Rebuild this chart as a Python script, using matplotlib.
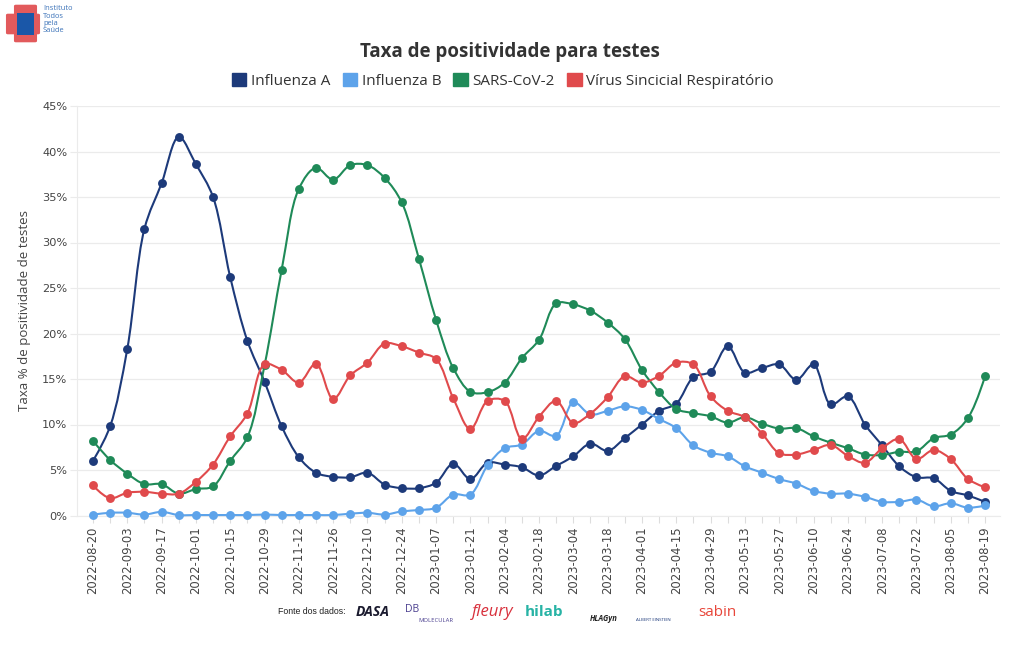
import numpy as np
import matplotlib
matplotlib.use("Agg")
import matplotlib.pyplot as plt
from matplotlib.path import Path
from matplotlib.patches import PathPatch, Patch, FancyBboxPatch

plt.rcParams['font.family'] = ['Open Sans', 'DejaVu Sans']

# weekly dates (labels shown every two weeks)
dates = [
    "2022-08-20", "2022-08-27", "2022-09-03", "2022-09-10", "2022-09-17", "2022-09-24",
    "2022-10-01", "2022-10-08", "2022-10-15", "2022-10-22", "2022-10-29", "2022-11-05",
    "2022-11-12", "2022-11-19", "2022-11-26", "2022-12-03", "2022-12-10", "2022-12-17",
    "2022-12-24", "2022-12-31", "2023-01-07", "2023-01-14", "2023-01-21", "2023-01-28",
    "2023-02-04", "2023-02-11", "2023-02-18", "2023-02-25", "2023-03-04", "2023-03-11",
    "2023-03-18", "2023-03-25", "2023-04-01", "2023-04-08", "2023-04-15", "2023-04-22",
    "2023-04-29", "2023-05-06", "2023-05-13", "2023-05-20", "2023-05-27", "2023-06-03",
    "2023-06-10", "2023-06-17", "2023-06-24", "2023-07-01", "2023-07-08", "2023-07-15",
    "2023-07-22", "2023-07-29", "2023-08-05", "2023-08-12", "2023-08-19",
]

flu_a = [6.0, 9.8, 18.3, 31.5, 36.5, 41.6, 38.6, 35.0, 26.2, 19.2, 14.7, 9.8, 6.4,
         4.7, 4.25, 4.2, 4.7, 3.4, 3.0, 3.0, 3.6, 5.7, 4.0, 5.8, 5.6, 5.3, 4.4,
         5.45, 6.5, 7.9, 7.1, 8.5, 10.0, 11.5, 12.3, 15.2, 15.8, 18.6, 15.7, 16.2,
         16.6, 14.9, 16.6, 12.2, 13.1, 10.0, 7.7, 5.4, 4.2, 4.1, 2.7, 2.2, 1.5]
flu_b = [0.1, 0.3, 0.3, 0.1, 0.4, 0.05, 0.05, 0.05, 0.05, 0.05, 0.1, 0.05, 0.05,
         0.05, 0.05, 0.2, 0.3, 0.1, 0.45, 0.6, 0.85, 2.3, 2.3, 5.5, 7.4, 7.8, 9.3,
         8.75, 12.45, 11.1, 11.5, 12.0, 11.6, 10.6, 9.6, 7.7, 6.9, 6.5, 5.4, 4.7,
         4.0, 3.5, 2.7, 2.4, 2.4, 2.05, 1.5, 1.5, 1.75, 1.0, 1.35, 0.85, 1.1]
sars = [8.2, 6.1, 4.6, 3.45, 3.45, 2.4, 2.9, 3.2, 6.0, 8.6, 16.5, 27.0, 35.9,
        38.2, 36.9, 38.5, 38.5, 37.1, 34.4, 28.2, 21.5, 16.2, 13.6, 13.55, 14.6, 17.3, 19.3,
        23.3, 23.2, 22.5, 21.2, 19.4, 16.0, 13.55, 11.7, 11.25, 10.9, 10.2, 10.8, 10.1,
        9.55, 9.6, 8.7, 8.0, 7.4, 6.7, 6.65, 7.0, 7.05, 8.5, 8.9, 10.7, 15.3]
vsr = [3.3, 1.9, 2.5, 2.6, 2.4, 2.4, 3.7, 5.6, 8.7, 11.2, 16.6, 16.0, 14.6,
       16.7, 12.8, 15.4, 16.8, 18.9, 18.6, 17.9, 17.2, 12.9, 9.5, 12.6, 12.6, 8.4, 10.85,
       12.6, 10.15, 11.2, 13.0, 15.3, 14.6, 15.35, 16.8, 16.6, 13.1, 11.5, 10.8, 9.0,
       6.85, 6.7, 7.2, 7.75, 6.55, 5.8, 7.4, 8.4, 6.2, 7.2, 6.2, 4.0, 3.1]

names = ["Influenza A", "Influenza B", "SARS-CoV-2", "Vírus Sincicial Respiratório"]
colors = ["#1d3a7a", "#5da3ea", "#1f8a58", "#e04a4c"]
series = [flu_a, flu_b, sars, vsr]


def spline_path(x, y, sx, sy, smooth=1.0):
    # plotly-like catmull-rom spline, computed in pixel-ish space
    P = np.column_stack([np.asarray(x, float) * sx, np.asarray(y, float) * sy])
    n = len(P)
    tang = []
    for i in range(1, n - 1):
        d1 = P[i - 1] - P[i]
        d2 = P[i + 1] - P[i]
        d1a = np.hypot(*d1) ** 0.5
        d2a = np.hypot(*d2) ** 0.5
        num = (d2a ** 2 * d1 - d1a ** 2 * d2) * smooth
        t0 = P[i] + num / (3 * d2a * (d1a + d2a))
        t1 = P[i] - num / (3 * d1a * (d1a + d2a))
        tang.append((t0, t1))
    verts = [P[0], tang[0][0], P[1]]
    codes = [Path.MOVETO, Path.CURVE3, Path.CURVE3]
    for i in range(2, n - 1):
        verts += [tang[i - 2][1], tang[i - 1][0], P[i]]
        codes += [Path.CURVE4] * 3
    verts += [tang[n - 3][1], P[n - 1]]
    codes += [Path.CURVE3, Path.CURVE3]
    verts = np.array(verts) / np.array([sx, sy])
    return Path(verts, codes)


fig = plt.figure(figsize=(10.2, 6.5), dpi=100)
ax = fig.add_axes([77 / 1020, 1 - 515.5 / 650, 923 / 1020, 409.5 / 650])

x = np.arange(len(dates))
for vals, col in zip(series, colors):
    path = spline_path(x, vals, 17.15, 9.1)
    ax.add_patch(PathPatch(path, facecolor="none", edgecolor=col, lw=1.5,
                           clip_on=False, zorder=3, capstyle="round", joinstyle="round"))
    ax.plot(x, vals, "o", color=col, ms=6.4, mew=0, clip_on=False, zorder=3)

ax.set_xlim(-0.93, 52.87)
ax.set_ylim(0, 45)
ax.set_yticks(np.arange(0, 46, 5))
ax.set_yticklabels([f"{v}%" for v in range(0, 46, 5)])
ax.set_xticks(x)
ax.set_xticklabels([d if i % 2 == 0 else "" for i, d in enumerate(dates)], rotation=90)
ax.grid(axis="y", color="#ebebeb", lw=0.9, zorder=0)
for s in ["top", "right"]:
    ax.spines[s].set_visible(False)
ax.spines["left"].set_color("#ebebeb")
ax.spines["bottom"].set_color("#ebebeb")
ax.tick_params(axis="y", length=5, color="#ebebeb", labelsize=8.2, labelcolor="#444444", pad=2)
ax.tick_params(axis="x", length=5, color="#dddddd", labelsize=8.4, labelcolor="#444444", pad=3)
for lab in ax.get_xticklabels() + ax.get_yticklabels():
    lab.set_family(["DejaVu Sans"])
ax.set_ylabel("Taxa % de positividade de testes", fontsize=9.5, color="#444444", labelpad=8)

fig.text(0.5, 1 - 52 / 650, "Taxa de positividade para testes", ha="center", va="center",
         fontsize=13.5, fontweight="bold", color="#333333")
handles = [Patch(facecolor=c, edgecolor=c) for c in colors]
fig.legend(handles, names, loc="center", bbox_to_anchor=(0.493, 1 - 81 / 650), ncol=4,
           frameon=False, handlelength=0.95, handleheight=0.95, handletextpad=0.3,
           columnspacing=0.8, fontsize=11, labelcolor="#333333")

# top-left logo
fig.patches.append(FancyBboxPatch((8 / 1020, 1 - 33 / 650), 30 / 1020, 18 / 650,
                                  boxstyle="round,pad=0.002", fc="#e25a5c", ec="none",
                                  transform=fig.transFigure))
fig.patches.append(FancyBboxPatch((16 / 1020, 1 - 41 / 650), 19 / 1020, 35 / 650,
                                  boxstyle="round,pad=0.002", fc="#e25a5c", ec="none",
                                  transform=fig.transFigure))
fig.patches.append(FancyBboxPatch((17 / 1020, 1 - 35 / 650), 17 / 1020, 22 / 650,
                                  boxstyle="square,pad=0", fc="#1a57a8", ec="none",
                                  transform=fig.transFigure))
fig.text(43 / 1020, 1 - 5 / 650, "Instituto\nTodos\npela\nSaúde", ha="left", va="top",
         fontsize=5.4, color="#3b72b8", linespacing=1.1)

# footer with data sources
fy = 1 - 612 / 650
fig.text(278 / 1020, fy, "Fonte dos dados:", fontsize=6.3, ha="left", va="center",
         family=["Liberation Sans"], color="#222222")
fig.text(356 / 1020, fy, "DASA", fontsize=10, ha="left", va="center", fontweight="bold",
         style="italic", color="#1a1a2e")
fig.text(405 / 1020, fy + 0.004, "DB", fontsize=7.5, ha="left", va="center", color="#4a3f8f")
fig.text(418 / 1020, fy - 0.013, "MOLECULAR", fontsize=4.2, ha="left", va="center", color="#4a3f8f")
fig.text(472 / 1020, fy, "fleury", fontsize=12, ha="left", va="center", style="italic",
         color="#d8303c")
fig.text(525 / 1020, fy, "hilab", fontsize=11, ha="left", va="center", fontweight="bold",
         color="#27b3a5")
fig.text(590 / 1020, fy - 0.01, "HLAGyn", fontsize=5.5, ha="left", va="center",
         fontweight="bold", style="italic", color="#222222")
fig.text(653 / 1020, fy - 0.013, "ALBERT EINSTEIN", fontsize=3.2, ha="center", va="center",
         color="#1d3a7a")
fig.text(698 / 1020, fy, "sabin", fontsize=11, ha="left", va="center", color="#e8463a")

fig.savefig("out.png", dpi=100, facecolor="white")
